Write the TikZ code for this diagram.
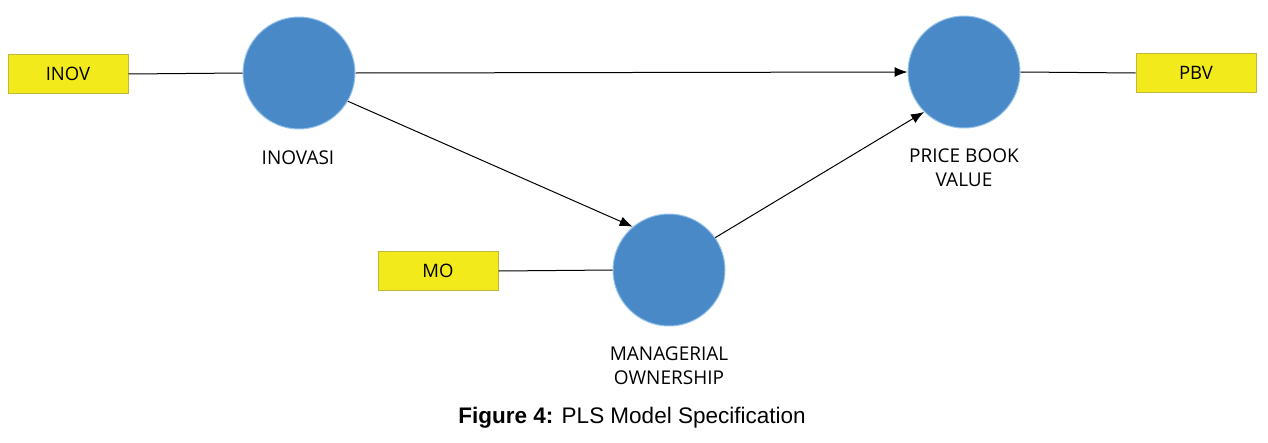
\documentclass[tikz,border=0pt]{standalone}
\usepackage{fontspec}
\setmainfont{Open Sans}
\newfontfamily\capfont{Liberation Sans}
\usetikzlibrary{arrows.meta}
\definecolor{boxyellow}{RGB}{242,234,26}
\definecolor{boxborder}{RGB}{190,185,60}
\definecolor{circblue}{RGB}{73,137,200}
\definecolor{circedge}{RGB}{150,195,235}
\tikzset{
  indicator/.style={rectangle, fill=boxyellow, draw=boxborder, line width=1pt,
    minimum width=120pt, minimum height=39pt, inner sep=0pt,
    font=\fontsize{18.5}{22}\selectfont},
  latent/.style={circle, fill=circblue, draw=circedge, line width=1pt,
    minimum size=112pt, inner sep=0pt},
  lab/.style={align=center, font=\fontsize{19}{24}\selectfont, inner sep=0pt},
  link/.style={draw=black, line width=1pt},
  path/.style={draw=black, line width=1pt, -{Latex[length=13pt,width=10pt]}}
}
\begin{document}
\begin{tikzpicture}[x=1pt,y=-1pt]
\useasboundingbox (0,0) rectangle (1268,442);
\node[indicator] (inov) at (68,74) {INOV};
\node[indicator] (pbvb) at (1196,73) {PBV};
\node[indicator] (mob) at (438,271) {MO};
\node[latent] (inovasi) at (299,73) {};
\node[latent] (pbv) at (964,72) {};
\node[latent] (mo) at (669,270) {};
\node[lab] (linov) at (298,158) {INOVASI};
\node[lab] (lpbv) at (964,168) {PRICE BOOK\\VALUE};
\node[lab] (lmo) at (669,366) {MANAGERIAL\\OWNERSHIP};
\node[inner sep=0pt, font=\capfont\fontsize{22.5}{26}\selectfont] (cap) at (632,418) {\textbf{Figure 4:} PLS Model Specification};
\draw[link] (inov.east) -- (inovasi.west);
\draw[link] (mob.east) -- (mo.west);
\draw[link] (pbv.east) -- (pbvb.west);
\draw[path] (inovasi.east) -- (pbv.west);
\draw[path] (inovasi.-30) -- (mo.130);
\draw[path] (mo.35) -- (pbv.-135);
\end{tikzpicture}
\end{document}
